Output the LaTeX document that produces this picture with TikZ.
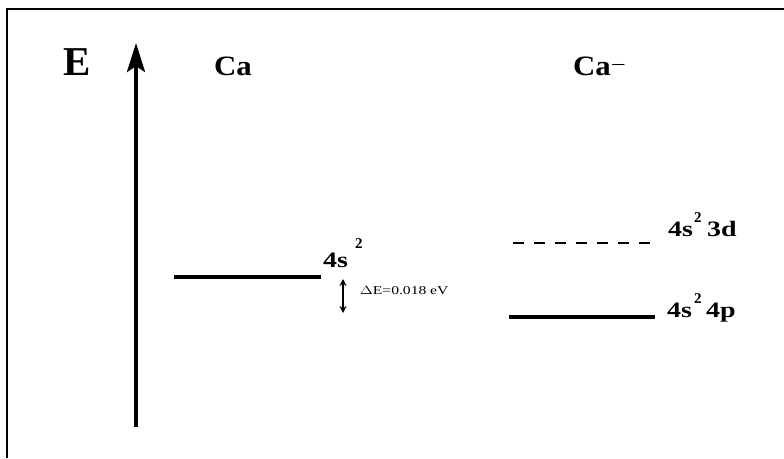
\documentclass[tikz,border=0pt]{standalone}
\usepackage{fontspec}
\setmainfont{Liberation Serif}
\usepackage{graphicx}
\usetikzlibrary{arrows.meta, positioning}
% horizontally stretched label text
\newcommand{\widetxt}[2][1.27]{\scalebox{#1}[1]{#2}}

\begin{document}
\begin{tikzpicture}[x=1pt, y=-1pt,
  level/.style={line width=3.5pt},
  exc/.style={line width=2.2pt, dash pattern=on 11pt off 10pt},
  lab/.style={font=\fontsize{22}{22}\selectfont\bfseries, inner sep=0pt, anchor=base west},
  head/.style={font=\fontsize{28}{28}\selectfont\bfseries, inner sep=0pt, anchor=base west},
  sup/.style={font=\fontsize{15}{15}\selectfont\bfseries, inner sep=0pt, anchor=base west}]
  \useasboundingbox (0,0) rectangle (784,458);
  % frame
  \draw[line width=2pt] (7,458) -- (7,9) -- (784,9);
  % energy axis
  \node[font=\fontsize{41}{41}\selectfont\bfseries, inner sep=0pt, anchor=base west] (elab) at (63,75) {E};
  \coordinate (eb) at (136,427);
  \coordinate (et) at (136,43);
  \draw[line width=4pt, -{Stealth[length=29pt, width=18pt, inset=6pt]}] (eb) -- (et);
  % headers
  \node[head] (ca) at (214,75) {\widetxt[1.1]{Ca}};
  \node[head] (caneg) at (573,75) {\widetxt[1.1]{Ca}};
  \node[sup, anchor=base west] (minus) at ([xshift=1pt]caneg.base east) {\raisebox{7pt}{\widetxt[1.6]{--}}};
  % Ca ground level
  \coordinate (g1) at (174,277);
  \coordinate (g2) at (321,277);
  \draw[level] (g1) -- (g2);
  \node[lab] (gs) at (323,267) {\widetxt{4s}};
  \node[sup] (gs2) at (355,248) {2};
  % affinity
  \coordinate (d1) at (343,279);
  \coordinate (d2) at (343,313);
  \draw[line width=1.6pt, {Stealth[length=7pt, width=7pt]}-{Stealth[length=7pt, width=7pt]}] (d1) -- (d2);
  \node[font=\fontsize{12}{12}\selectfont, inner sep=0pt, anchor=base west] (dE) at (360,294) {\widetxt[1.3]{$\Delta$E=0.018 eV}};
  % Ca- levels
  \coordinate (x1) at (513,243);
  \coordinate (x2) at (654,243);
  \draw[exc] (x1) -- (x2);
  \node[lab] (xs) at (668,236) {\widetxt{4s}};
  \node[sup] (xs2) at (694,222) {2};
  \node[lab] (x3d) at (707,236) {\widetxt{3d}};
  \coordinate (b1) at (509,317);
  \coordinate (b2) at (655,317);
  \draw[level] (b1) -- (b2);
  \node[lab] (bs) at (667,317) {\widetxt{4s}};
  \node[sup] (bs2) at (694,303) {2};
  \node[lab] (b4p) at (706,317) {\widetxt{4p}};
\end{tikzpicture}
\end{document}
